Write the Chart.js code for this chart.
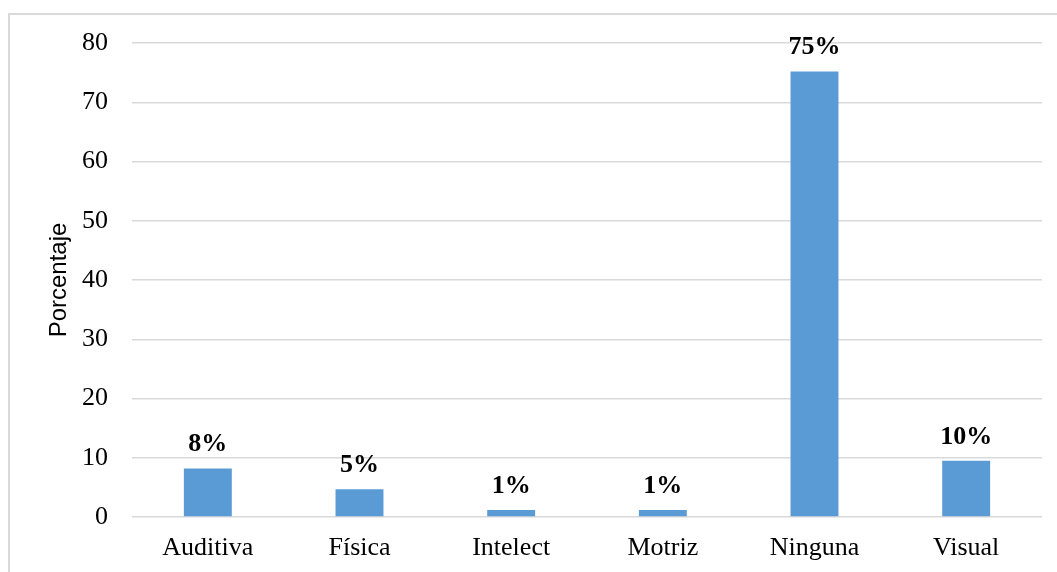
<!DOCTYPE html>
<html>
<head>
<meta charset="utf-8">
<script src="https://cdn.jsdelivr.net/npm/chart.js@4"></script>
<style>
    html, body { margin: 0; padding: 0; background: #ffffff; }
    #wrap { position: relative; width: 1057px; height: 572px; overflow: hidden; }
    #frame {
        position: absolute; left: 8px; top: 13px; width: 1100px; height: 620px;
        border: 2px solid #d9d9d9; box-sizing: border-box;
    }
    #chart { position: absolute; left: 0; top: 0; }
</style>
</head>
<body>
<div id="wrap">
    <div id="frame"></div>
    <canvas id="chart" width="1057" height="572"></canvas>
</div>
<script>
// Data
const categories = ['Auditiva', 'Física', 'Intelect', 'Motriz', 'Ninguna', 'Visual'];
const porcentajes = [8.2, 4.7, 1.2, 1.2, 75.2, 9.5];
const etiquetas = ['8%', '5%', '1%', '1%', '75%', '10%'];
const yTicks = [0, 10, 20, 30, 40, 50, 60, 70, 80];

// Draws the bold percentage above each bar
const valueLabels = {
    id: 'valueLabels',
    afterDatasetsDraw(chart) {
        const ctx = chart.ctx;
        const meta = chart.getDatasetMeta(0);
        ctx.save();
        ctx.font = 'bold 26px "Liberation Serif", "Times New Roman", serif';
        ctx.fillStyle = '#000000';
        ctx.textAlign = 'center';
        ctx.textBaseline = 'alphabetic';
        meta.data.forEach((bar, i) => {
            ctx.fillText(etiquetas[i], bar.x, bar.y - 17);
        });
        ctx.restore();
    }
};

const ctx = document.getElementById('chart').getContext('2d');
const chart = new Chart(ctx, {
    type: 'bar',
    data: {
        labels: categories,
        datasets: [{
            data: porcentajes,
            backgroundColor: '#5b9bd5',
            borderWidth: 0,
            categoryPercentage: 1,
            barPercentage: 0.316
        }]
    },
    options: {
        responsive: false,
        animation: false,
        devicePixelRatio: 1,
        layout: { padding: { left: 0, right: 15, top: 43, bottom: 0 } },
        plugins: {
            legend: { display: false },
            tooltip: { enabled: false }
        },
        scales: {
            x: {
                grid: { display: false, drawTicks: false },
                border: { display: false },
                ticks: {
                    padding: 16,
                    color: '#000000',
                    font: { family: '"Liberation Serif", "Times New Roman", serif', size: 26 }
                },
                afterFit: (scale) => { scale.height = 55; }
            },
            y: {
                min: 0,
                max: 80,
                afterBuildTicks: (scale) => { scale.ticks = yTicks.map(v => ({ value: v })); },
                grid: { color: '#d9d9d9', lineWidth: 1.5, drawTicks: false },
                border: { display: false },
                ticks: {
                    padding: 24,
                    color: '#000000',
                    font: { family: '"Liberation Serif", "Times New Roman", serif', size: 26 }
                },
                title: {
                    display: true,
                    text: 'Porcentaje',
                    color: '#000000',
                    padding: { top: 45, bottom: 0 },
                    font: { family: '"Liberation Sans", Arial, sans-serif', size: 24 }
                },
                afterFit: (scale) => { scale.width = 132; }
            }
        }
    },
    plugins: [valueLabels]
});
</script>
</body>
</html>
